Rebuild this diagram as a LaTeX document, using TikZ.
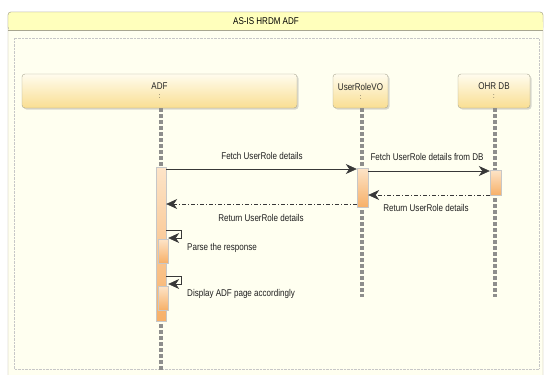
\documentclass[tikz,border=0pt]{standalone}
\usepackage{fontspec}
\setmainfont[FakeStretch=0.82]{Liberation Sans}
\usetikzlibrary{arrows.meta,shadows}
\definecolor{cream}{HTML}{FFFFF0}
\definecolor{titlebar}{HTML}{FFFFBC}
\definecolor{framegray}{HTML}{A8A690}
\definecolor{hdrtop}{HTML}{FFFCEE}
\definecolor{hdrbot}{HTML}{F9DE92}
\definecolor{acttop}{HTML}{FDE4C8}
\definecolor{actbot}{HTML}{F7B068}
\definecolor{lifegray}{HTML}{8E8E8C}
\definecolor{msggray}{HTML}{383838}
\tikzset{
  hdr/.style={draw=framegray, rounded corners=3pt, top color=hdrtop, bottom color=hdrbot,
    minimum height=34pt, inner sep=0pt, drop shadow={opacity=0.3, shadow xshift=1.5pt, shadow yshift=-1.5pt},
    align=center, text=black!85},
  lifeline/.style={draw=lifegray, line width=3.2pt, dash pattern=on 4pt off 2pt},
  actbar/.style={draw=black!22, top color=acttop, bottom color=actbot, minimum width=10pt, inner sep=0pt,
    drop shadow={opacity=0.2, shadow xshift=1pt, shadow yshift=-1pt}},
  msg/.style={draw=msggray, line width=0.6pt, -{Stealth[length=11pt,width=10pt,inset=3.5pt]}},
  ret/.style={msg, dash pattern=on 4pt off 2pt on 1pt off 2pt},
  lbl/.style={text=black!88, inner sep=0pt}
}
\begin{document}
\begin{tikzpicture}[x=1pt,y=-1pt, font=\fontsize{9.8}{11}\selectfont]
\useasboundingbox (0,0) rectangle (544,375);
\fill[white] (0,0) rectangle (544,375);
\begin{scope}
\clip (0,0) rectangle (544,375);
% outer frame
\draw[framegray, fill=cream, rounded corners=3pt] (8,12) rectangle (543,390);
\draw[framegray, fill=titlebar, rounded corners=3pt] (8,12) rectangle (543,30);
\fill[titlebar] (8.5,22) rectangle (542.5,29.6);
\draw[framegray] (8,30) -- (543,30);
\node[lbl, text=black] (title) at (266,21) {AS-IS HRDM ADF};
% inner dotted rect
\draw[black!22, densely dotted] (14,38) rectangle (539,369);
\end{scope}
% headers
\node[hdr, minimum width=275pt] (adf) at (159.5,91) {ADF\\[-2pt]\scriptsize :};
\node[hdr, minimum width=55pt] (vo) at (360.5,91) {UserRoleVO\\[-2pt]\scriptsize :};
\node[hdr, minimum width=72pt] (db) at (494,91) {OHR DB\\[-2pt]\scriptsize :};
% lifelines
\coordinate (adfend) at (161,370);
\coordinate (voend) at (362,297);
\coordinate (dbend) at (495,297);
\draw[lifeline] (adf.south -| adfend) -- (adfend);
\draw[lifeline] (vo.south -| voend) -- (voend);
\draw[lifeline] (db.south -| dbend) -- (dbend);
% activation bars
\node[actbar, minimum height=154pt] (act1) at (161,244) {};
\node[actbar, minimum height=24pt] (parse) at (163,251) {};
\node[actbar, minimum height=24pt] (disp) at (163,298) {};
\node[actbar, minimum width=11pt, minimum height=39pt] (actvo) at (362.5,187.5) {};
\node[actbar, minimum width=11pt, minimum height=25pt] (actdb) at (495.5,182.5) {};
% message levels
\coordinate (y1) at (0,169);
\coordinate (y2) at (0,171);
\coordinate (y3) at (0,195);
\coordinate (y4) at (0,204);
\coordinate (sp1) at (181,230);
\coordinate (sp2) at (181,238);
\coordinate (sd1) at (181,276);
\coordinate (sd2) at (181,284);
% messages
\draw[msg] (act1.east |- y1) -- (actvo.west |- y1);
\node[lbl] (l1) at (262,156) {Fetch UserRole details};
\draw[msg] (actvo.east |- y2) -- (actdb.west |- y2);
\node[lbl] (l2) at (427,157) {Fetch UserRole details from DB};
\draw[ret] (actdb.west |- y3) -- (actvo.east |- y3);
\node[lbl] (l3) at (426,208) {Return UserRole details};
\draw[ret] (actvo.west |- y4) -- (act1.east |- y4);
\node[lbl] (l4) at (261,218) {Return UserRole details};
% self messages
\draw[msg] (act1.east |- sp1) -- (sp1) -- (sp2) -- (parse.east |- sp2);
\node[lbl, anchor=west] (l5) at (187,248) {Parse the response};
\draw[msg] (act1.east |- sd1) -- (sd1) -- (sd2) -- (disp.east |- sd2);
\node[lbl, anchor=west] (l6) at (187,294) {Display ADF page accordingly};
\end{tikzpicture}
\end{document}
